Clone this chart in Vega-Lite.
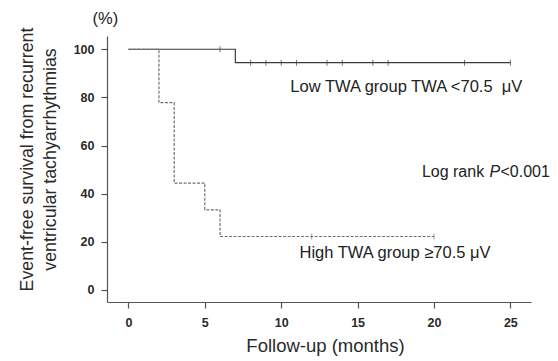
{
  "$schema": "https://vega.github.io/schema/vega-lite/v6.json",
  "autosize": "none",
  "width": 424,
  "height": 266,
  "padding": {"left": 107, "top": 36, "right": 27, "bottom": 59},
  "background": "white",
  "config": {
    "view": {"stroke": null},
    "font": "Liberation Sans",
    "axis": {
      "grid": false,
      "domainColor": "#555555",
      "tickColor": "#555555",
      "domainWidth": 1.2,
      "tickWidth": 1.2,
      "tickSize": 6,
      "labelFont": "Liberation Sans",
      "labelFontWeight": "bold",
      "labelFontSize": 12.5,
      "labelColor": "#2a2a2a",
      "titleFont": "Liberation Sans",
      "titleFontWeight": "normal",
      "titleFontSize": 18.5,
      "titleColor": "#2a2a2a"
    }
  },
  "datasets": {
    "curves": [
      {"group": "Low", "t": 0, "s": 100},
      {"group": "Low", "t": 7, "s": 94.4},
      {"group": "Low", "t": 25, "s": 94.4},
      {"group": "High", "t": 0, "s": 100},
      {"group": "High", "t": 2, "s": 77.8},
      {"group": "High", "t": 3, "s": 44.4},
      {"group": "High", "t": 5, "s": 33.3},
      {"group": "High", "t": 6, "s": 22.2},
      {"group": "High", "t": 20, "s": 22.2}
    ],
    "censored": [
      {"group": "Low", "t": 6, "s": 100},
      {"group": "Low", "t": 8, "s": 94.4},
      {"group": "Low", "t": 9, "s": 94.4},
      {"group": "Low", "t": 10, "s": 94.4},
      {"group": "Low", "t": 11, "s": 94.4},
      {"group": "Low", "t": 13, "s": 94.4},
      {"group": "Low", "t": 14, "s": 94.4},
      {"group": "Low", "t": 16, "s": 94.4},
      {"group": "Low", "t": 17, "s": 94.4},
      {"group": "Low", "t": 22, "s": 94.4},
      {"group": "Low", "t": 25, "s": 94.4},
      {"group": "High", "t": 12, "s": 22.2},
      {"group": "High", "t": 20, "s": 22.2}
    ],
    "notesLeft": [
      {"t": 10.6, "s": 84.5, "label": "Low TWA group TWA <70.5\u00a0\u00a0μV"},
      {"t": 11.2, "s": 15.5, "label": "High TWA group ≥70.5 μV"},
      {"t": -2.35, "s": 112.5, "label": "(%)"}
    ],
    "logrank": [
      {"t": 19.21, "s": 49, "label": "Log rank"},
      {"t": 24.35, "s": 49, "label": "<0.001"}
    ],
    "italic": [
      {"t": 23.63, "s": 49, "label": "P"}
    ]
  },
  "layer": [
    {
      "data": {"name": "curves"},
      "mark": {"type": "line", "interpolate": "step-after", "strokeWidth": 1.2},
      "encoding": {
        "x": {
          "field": "t", "type": "quantitative",
          "scale": {"domain": [-1.4, 26.35], "nice": false, "zero": false},
          "axis": {"values": [0, 5, 10, 15, 20, 25], "title": "Follow-up (months)", "labelPadding": 8, "titlePadding": 8, "titleX": 218}
        },
        "y": {
          "field": "s", "type": "quantitative",
          "scale": {"domain": [-5, 105.5], "nice": false, "zero": false},
          "axis": {"values": [0, 20, 40, 60, 80, 100], "title": ["Event-free survival from recurrent", "ventricular tachyarrhythmias"], "titleFontSize": 17.8, "labelPadding": 7, "titlePadding": 14, "titleLineHeight": 23, "titleY": 123}
        },
        "color": {"field": "group", "type": "nominal", "scale": {"domain": ["Low", "High"], "range": ["#3a3a3a", "#707070"]}, "legend": null},
        "strokeDash": {"field": "group", "type": "nominal", "scale": {"domain": ["Low", "High"], "range": [[1, 0], [3, 1.5]]}, "legend": null}
      }
    },
    {
      "data": {"name": "censored"},
      "mark": {"type": "tick", "orient": "vertical", "size": 6, "thickness": 1},
      "encoding": {
        "x": {"field": "t", "type": "quantitative"},
        "y": {"field": "s", "type": "quantitative"},
        "color": {"field": "group", "type": "nominal", "legend": null}
      }
    },
    {
      "data": {"name": "notesLeft"},
      "mark": {"type": "text", "align": "left", "baseline": "middle", "fontSize": 16.5, "color": "#222222", "font": "Liberation Sans"},
      "encoding": {
        "x": {"field": "t", "type": "quantitative"},
        "y": {"field": "s", "type": "quantitative"},
        "text": {"field": "label"}
      }
    },
    {
      "data": {"name": "logrank"},
      "mark": {"type": "text", "align": "left", "baseline": "middle", "fontSize": 16, "color": "#222222", "font": "Liberation Sans"},
      "encoding": {
        "x": {"field": "t", "type": "quantitative"},
        "y": {"field": "s", "type": "quantitative"},
        "text": {"field": "label"}
      }
    },
    {
      "data": {"name": "italic"},
      "mark": {"type": "text", "align": "left", "baseline": "middle", "fontSize": 16, "fontStyle": "italic", "color": "#222222", "font": "Liberation Sans"},
      "encoding": {
        "x": {"field": "t", "type": "quantitative"},
        "y": {"field": "s", "type": "quantitative"},
        "text": {"field": "label"}
      }
    }
  ]
}
